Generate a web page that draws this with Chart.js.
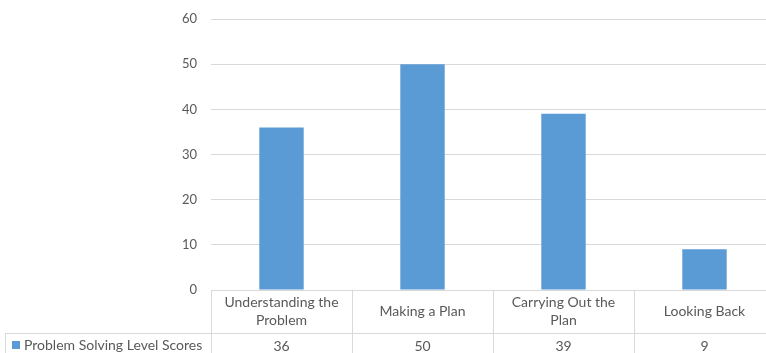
<!DOCTYPE html>
<html>
<head>
<meta charset="utf-8">
<script src="https://cdn.jsdelivr.net/npm/chart.js@4/dist/chart.umd.min.js"></script>
<style>
  html, body { margin: 0; padding: 0; background: #fff; overflow: hidden; }
  #wrap { width: 766px; height: 353px; overflow: hidden; position: relative; }
  #chart { position: absolute; left: 0; top: 0; }
</style>
</head>
<body>
<div id="wrap"><canvas id="chart" width="780" height="353"></canvas></div>
<script>
const categories = [
  ['Understanding the', 'Problem'],
  ['Making a Plan'],
  ['Carrying Out the', 'Plan'],
  ['Looking Back']
];
const seriesName = 'Problem Solving Level Scores';
const scores = [36, 50, 39, 9];
const yTicks = [0, 10, 20, 30, 40, 50, 60];

const FONT = 'Lato, "Open Sans", sans-serif';
const BAR = '#5b9bd5';
const GRID = '#d9d9d9';
const TEXT = '#595959';

// data table under the plot: category header row + value row with legend key
const dataTable = {
  id: 'dataTable',
  afterDraw(chart) {
    const ctx = chart.ctx;
    const area = chart.chartArea;
    const x = chart.scales.x;
    const top = area.bottom;
    const mid = top + 43;
    const bottom = chart.height + 1;
    const tableLeft = 5;

    ctx.save();
    ctx.strokeStyle = GRID;
    ctx.lineWidth = 1;
    ctx.beginPath();
    ctx.moveTo(area.left, top + 0.5); ctx.lineTo(area.right, top + 0.5);
    ctx.moveTo(tableLeft, mid + 0.5); ctx.lineTo(area.right, mid + 0.5);
    ctx.moveTo(tableLeft + 0.5, mid); ctx.lineTo(tableLeft + 0.5, bottom);
    const step = (area.right - area.left) / categories.length;
    for (let i = 0; i <= categories.length; i++) {
      const lx = Math.round(area.left + step * i) + 0.5;
      ctx.moveTo(lx, top); ctx.lineTo(lx, bottom);
    }
    ctx.stroke();

    ctx.fillStyle = TEXT;
    ctx.font = '14px ' + FONT;
    ctx.textAlign = 'center';
    ctx.textBaseline = 'middle';
    categories.forEach((lines, i) => {
      const cx = x.getPixelForValue(i);
      const lh = 18;
      const y0 = (top + mid) / 2 - (lines.length - 1) * lh / 2;
      lines.forEach((t, j) => ctx.fillText(t, cx, y0 + j * lh));
      ctx.fillText(String(scores[i]), cx, mid + 13);
    });

    // legend key
    ctx.fillStyle = BAR;
    ctx.fillRect(12, mid + 8, 8, 8);
    ctx.fillStyle = TEXT;
    ctx.textAlign = 'left';
    ctx.fillText(seriesName, 24, mid + 12.5);
    ctx.restore();
  }
};

new Chart(document.getElementById('chart'), {
  type: 'bar',
  data: {
    labels: categories,
    datasets: [{
      label: seriesName,
      data: scores,
      backgroundColor: BAR,
      categoryPercentage: 1,
      barPercentage: 0.315
    }]
  },
  options: {
    responsive: false,
    animation: false,
    layout: { padding: { top: 19, right: 5, bottom: 63, left: 0 } },
    plugins: { legend: { display: false }, tooltip: { enabled: false } },
    scales: {
      x: { display: false },
      y: {
        min: 0,
        max: 60,
        afterFit(scale) {
          scale.width = 211;
          scale.paddingTop = 0;
          scale.paddingBottom = 0;
        },
        afterBuildTicks(scale) { scale.ticks = yTicks.map(v => ({ value: v })); },
        border: { display: false },
        grid: { color: GRID, drawTicks: false },
        ticks: { color: TEXT, padding: 14, font: { family: FONT, size: 13 } }
      }
    }
  },
  plugins: [dataTable]
});
</script>
</body>
</html>
